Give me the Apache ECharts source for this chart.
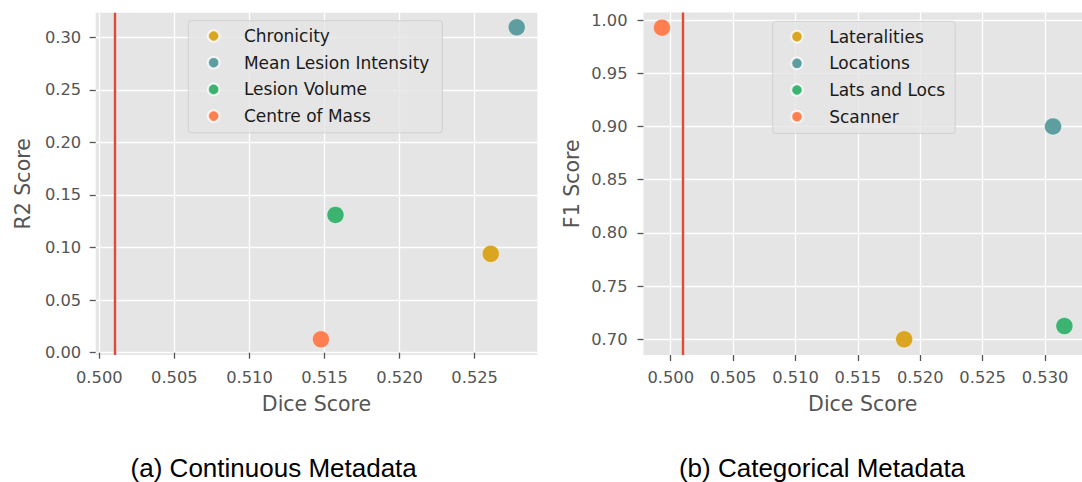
<!DOCTYPE html>
<html><head><meta charset="utf-8">
<script src="https://cdn.jsdelivr.net/npm/echarts@6/dist/echarts.min.js"></script>
<style>html,body{margin:0;padding:0;background:#fff}#c{width:1082px;height:482px}</style>
</head><body><div id="c"></div>
<script>
// ---- data ----
const contNames = ['Chronicity', 'Mean Lesion Intensity', 'Lesion Volume', 'Centre of Mass'];
const contDice  = [0.52607, 0.52780, 0.51573, 0.51476];
const contR2    = [0.0940, 0.3095, 0.1310, 0.0127];
const catNames  = ['Lateralities', 'Locations', 'Lats and Locs', 'Scanner'];
const catDice   = [0.51871, 0.53064, 0.53155, 0.49930];
const catF1     = [0.7000, 0.9000, 0.7125, 0.9928];
const baselineDice = 0.501;
const xTicksA = [0.500, 0.505, 0.510, 0.515, 0.520, 0.525];
const yTicksA = [0.00, 0.05, 0.10, 0.15, 0.20, 0.25, 0.30];
const xTicksB = [0.500, 0.505, 0.510, 0.515, 0.520, 0.525, 0.530];
const yTicksB = [0.70, 0.75, 0.80, 0.85, 0.90, 0.95, 1.00];
const colors = ['#DAA520', '#5F9EA0', '#3CB371', '#FF7F50'];
const captions = ['(a) Continuous Metadata', '(b) Categorical Metadata'];
const axisNames = {xA: 'Dice Score', yA: 'R2 Score', xB: 'Dice Score', yB: 'F1 Score'};

const FONT = 'DejaVu Sans';
function axis(gridIndex, min, max, ticks, dec, name, nameGap, margin) {
  return {
    type: 'value', gridIndex, min, max, name,
    nameLocation: 'middle', nameGap,
    nameTextStyle: {fontFamily: FONT, fontSize: 20.5, color: '#555', lineHeight: 24},
    axisLine: {show: false},
    axisTick: {show: true, length: 6, lineStyle: {color: '#555', width: 1.3}, customValues: ticks},
    axisLabel: {customValues: ticks, formatter: v => Number(v).toFixed(dec), fontFamily: FONT,
      fontSize: 16.3, color: '#555', margin, lineHeight: 19, hideOverlap: false},
    splitLine: {show: true, lineStyle: {color: '#fff', width: 1.3}}
  };
}

function seriesFor(names, xs, ys, idx) {
  return names.map((n, i) => {
    const s = {
      type: 'scatter', name: n, xAxisIndex: idx, yAxisIndex: idx,
      data: [[xs[i], ys[i]]], symbolSize: 17, silent: true, z: 3,
      itemStyle: {color: colors[i], opacity: 1, borderColor: 'rgba(255,255,255,0.8)', borderWidth: 0.5},
      emphasis: {disabled: true}
    };
    if (i === 0) {
      s.markLine = {silent: true, symbol: ['none', 'none'], label: {show: false}, precision: 6,
        lineStyle: {color: '#E24A33', width: 2.4, type: 'solid', opacity: 1},
        emphasis: {disabled: true}, animation: false, data: [{xAxis: baselineDice}]};
    }
    return s;
  });
}

function legend(names, left, top, padding, textPad) {
  return {
    data: names, left, top, orient: 'vertical', icon: 'circle',
    itemWidth: 11.5, itemHeight: 11.5, itemGap: 8.7, padding,
    backgroundColor: 'rgba(229,229,229,0.8)', borderColor: 'rgba(204,204,204,0.8)',
    borderWidth: 1, borderRadius: 3, selectedMode: false, z: 10,
    textStyle: {fontFamily: FONT, fontSize: 17, color: '#1a1a1a', lineHeight: 18, padding: [0, 0, 0, textPad]}
  };
}

const chart = echarts.init(document.getElementById('c'), null, {renderer: 'svg'});
chart.setOption({
  animation: false,
  backgroundColor: '#fff',
  grid: [
    {left: 95.7, top: 12.7, width: 441.6, height: 342.3, show: true, backgroundColor: '#E5E5E5', borderWidth: 0},
    {left: 643.5, top: 12.5, width: 438.5, height: 342.5, show: true, backgroundColor: '#E5E5E5', borderWidth: 0}
  ],
  xAxis: [
    axis(0, 0.49976, 0.52917, xTicksA, 3, axisNames.xA, 36.5, 12.5),
    axis(1, 0.49782, 0.53296, xTicksB, 3, axisNames.xB, 36.5, 12.5)
  ],
  yAxis: [
    axis(0, -0.0022, 0.3234, yTicksA, 2, axisNames.yA, 61, 14.5),
    axis(1, 0.6853, 1.00705, yTicksB, 2, axisNames.yB, 60, 16)
  ],
  legend: [
    legend(contNames, 188.3, 20.7, [6.3, 13, 7.7, 18.6], 19.5),
    legend(catNames, 772.7, 21.3, [6.3, 10, 7.7, 17.5], 21.5)
  ],
  series: [].concat(seriesFor(contNames, contDice, contR2, 0), seriesFor(catNames, catDice, catF1, 1)),
  graphic: [
    {type: 'text', x: 273.7, y: 468, style: {text: captions[0], font: '26px "Liberation Sans", Arial, sans-serif', fill: '#000', align: 'center', verticalAlign: 'middle'}},
    {type: 'text', x: 822, y: 468, style: {text: captions[1], font: '26px "Liberation Sans", Arial, sans-serif', fill: '#000', align: 'center', verticalAlign: 'middle'}}
  ]
});
</script></body></html>
